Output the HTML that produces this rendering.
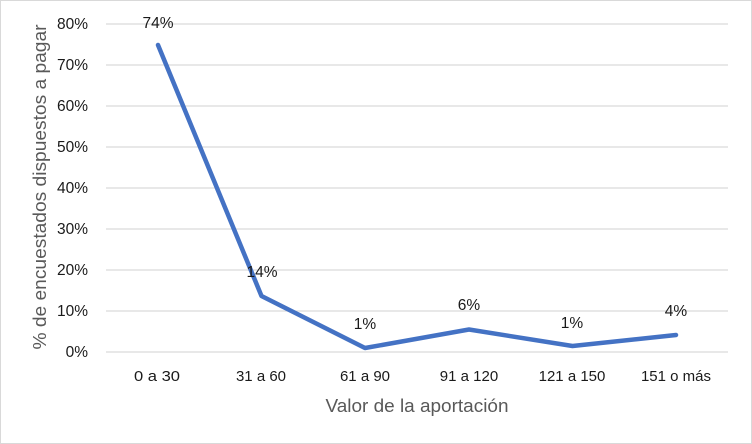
<!DOCTYPE html>
<html><head><meta charset="utf-8"><style>
html,body{margin:0;padding:0;background:#fff;}
svg{display:block;}
text{font-family:"Liberation Sans",sans-serif;}
</style></head><body>
<svg width="752" height="444" viewBox="0 0 752 444" xmlns="http://www.w3.org/2000/svg">
<rect x="0.5" y="0.5" width="751" height="443" fill="#fff" stroke="#d9d9d9" stroke-width="1"/>
<g stroke="#d9d9d9" stroke-width="1.3">
<line x1="106" x2="728" y1="24" y2="24"/>
<line x1="106" x2="728" y1="65" y2="65"/>
<line x1="106" x2="728" y1="106" y2="106"/>
<line x1="106" x2="728" y1="147" y2="147"/>
<line x1="106" x2="728" y1="188" y2="188"/>
<line x1="106" x2="728" y1="229" y2="229"/>
<line x1="106" x2="728" y1="270" y2="270"/>
<line x1="106" x2="728" y1="311" y2="311"/>
<line x1="106" x2="728" y1="352" y2="352"/>
</g>
<g font-size="15.5" fill="#1a1a1a" text-anchor="end">
<text x="88" y="29">80%</text>
<text x="88" y="70">70%</text>
<text x="88" y="111">60%</text>
<text x="88" y="152">50%</text>
<text x="88" y="193">40%</text>
<text x="88" y="234">30%</text>
<text x="88" y="275">20%</text>
<text x="88" y="316">10%</text>
<text x="88" y="357">0%</text>
</g>
<text transform="translate(46,187) rotate(-90)" text-anchor="middle" font-size="18" fill="#595959" textLength="325" lengthAdjust="spacingAndGlyphs">% de  encuestados dispuestos a pagar</text>
<polyline points="158,45 261.5,296 365,348 469,329.5 572.5,346 676,335" fill="none" stroke="#4472c4" stroke-width="4.5" stroke-linejoin="round" stroke-linecap="round"/>
<g font-size="15.5" fill="#1a1a1a" text-anchor="middle">
<text x="158" y="28">74%</text>
<text x="262" y="277">14%</text>
<text x="365" y="329">1%</text>
<text x="469" y="310">6%</text>
<text x="572" y="328">1%</text>
<text x="676" y="316">4%</text>
</g>
<g font-size="15" fill="#1a1a1a" text-anchor="middle">
<text x="157" y="381" textLength="46" lengthAdjust="spacingAndGlyphs">0 a 30</text>
<text x="261" y="381">31 a 60</text>
<text x="365" y="381">61 a 90</text>
<text x="469" y="381">91 a 120</text>
<text x="572" y="381">121 a 150</text>
<text x="676" y="381">151 o más</text>
</g>
<text x="417" y="412" text-anchor="middle" font-size="18" fill="#595959" textLength="183" lengthAdjust="spacingAndGlyphs">Valor de la aportación</text>
</svg>
</body></html>
